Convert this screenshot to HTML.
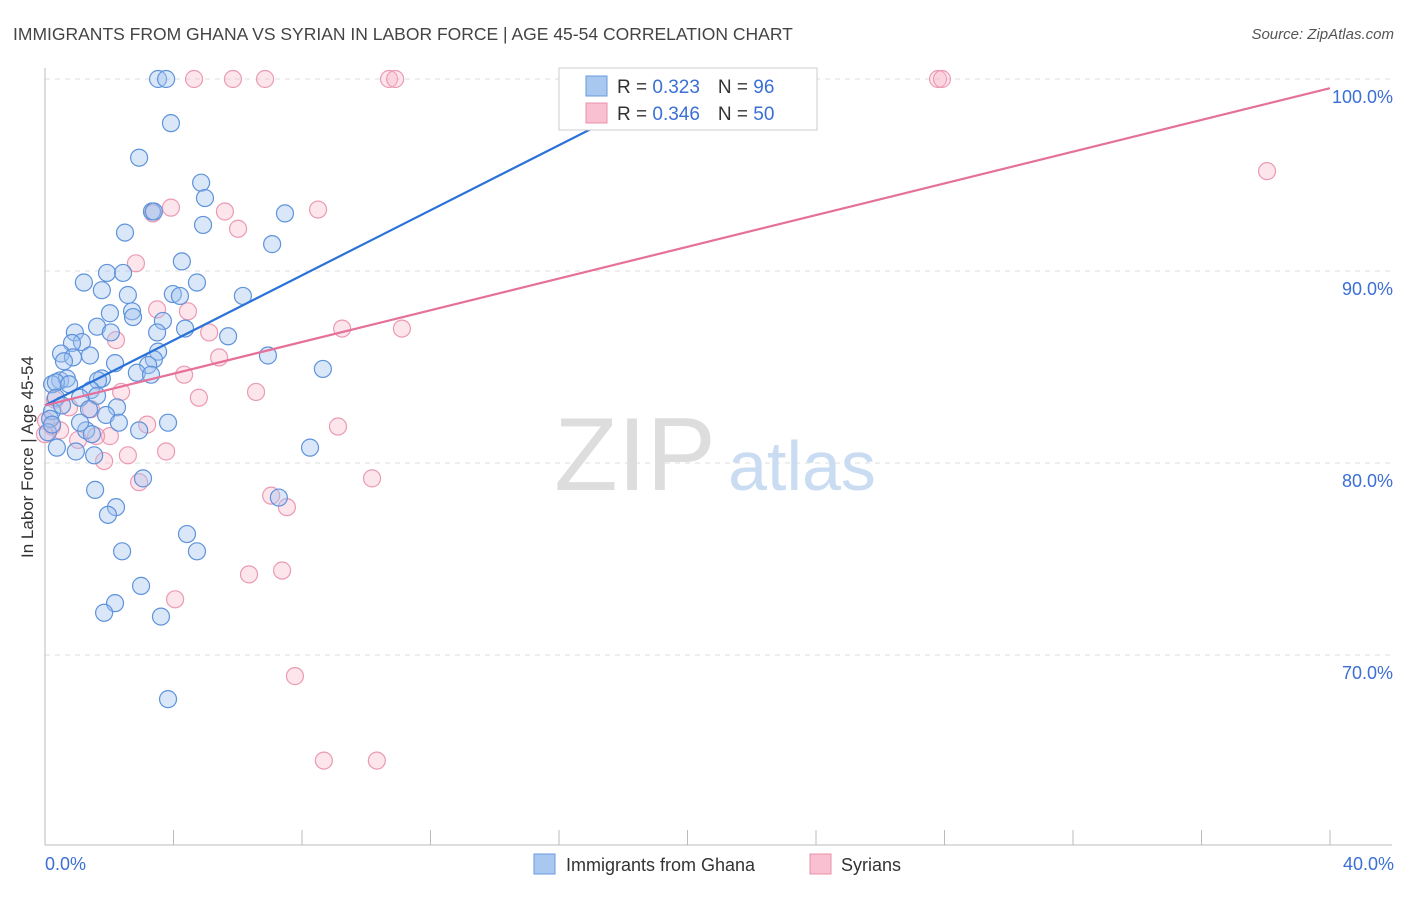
<!DOCTYPE html>
<html><head><meta charset="utf-8"><style>
body{margin:0;background:#fff;font-family:"Liberation Sans",sans-serif;}
svg text{font-family:"Liberation Sans",sans-serif;}
</style></head><body>
<svg id="chart" width="1406" height="892" viewBox="0 0 1406 892" xmlns="http://www.w3.org/2000/svg">
<text x="13" y="40" font-size="17.5" fill="#444">IMMIGRANTS FROM GHANA VS SYRIAN IN LABOR FORCE | AGE 45-54 CORRELATION CHART</text>
<text x="1394" y="39" font-size="15" fill="#555" font-style="italic" text-anchor="end">Source: ZipAtlas.com</text>
<g id="grid"></g>
<g>
<text x="635" y="490" font-size="104" fill="#ddd" font-family="Liberation Serif, serif" text-anchor="middle">ZIP</text>
<text x="802" y="490" font-size="70" fill="#c9dcf2" text-anchor="middle">atlas</text>
</g>
<g id="pts"></g>
<g id="lines"></g>
<text transform="translate(33,457) rotate(-90)" font-size="17" fill="#333" text-anchor="middle">In Labor Force | Age 45-54</text>
<text x="45" y="870" font-size="18" fill="#3b6fd4">0.0%</text>
<text x="1394" y="870" font-size="18" fill="#3b6fd4" text-anchor="end">40.0%</text>
<g>
<rect x="559" y="68" width="258" height="62" fill="#fff" stroke="#ccc"/>
<rect x="586" y="76" width="21" height="20" fill="#a8c8f0" stroke="#6a9ae0"/>
<rect x="586" y="103" width="21" height="20" fill="#f8c0d0" stroke="#e890aa"/>
<text x="617" y="93" font-size="19" fill="#333">R = <tspan fill="#3b6fd4">0.323</tspan><tspan dx="18">N = </tspan><tspan fill="#3b6fd4">96</tspan></text>
<text x="617" y="120" font-size="19" fill="#333">R = <tspan fill="#3b6fd4">0.346</tspan><tspan dx="18">N = </tspan><tspan fill="#3b6fd4">50</tspan></text>
</g>
<g>
<rect x="534" y="854" width="21" height="20" fill="#a8c8f0" stroke="#6a9ae0"/>
<text x="566" y="871" font-size="18" fill="#333">Immigrants from Ghana</text>
<rect x="810" y="854" width="21" height="20" fill="#f8c0d0" stroke="#e890aa"/>
<text x="841" y="871" font-size="18" fill="#333">Syrians</text>
</g>
</svg>
<script>
const yTicks=[70,80,90,100];
const yTickLabels=["70.0%","80.0%","90.0%","100.0%"];
const blueX=[3.52,3.77,3.92,2.93,4.86,4.98,3.33,3.39,7.47,4.92,2.49,7.07,4.26,1.93,2.43,1.21,4.73,1.77,2.58,3.98,4.20,6.16,2.71,2.02,3.67,1.62,4.36,0.93,1.15,2.74,2.05,3.49,5.70,0.84,0.50,1.40,0.87,3.52,6.94,2.18,0.59,3.39,3.21,2.86,3.30,8.65,0.47,0.68,1.77,1.65,0.22,0.34,0.75,1.43,1.62,1.09,0.34,2.24,1.37,0.22,1.90,3.83,2.30,2.93,1.28,1.46,0.16,0.37,0.96,1.53,8.25,3.05,1.56,7.28,2.21,1.96,4.42,2.40,4.73,2.99,2.18,1.84,3.61,3.83,0.09,0.22,0.53,1.09];
const blueY=[100,100,97.7,95.9,94.6,93.8,93.1,93.1,93.0,92.4,92.0,91.4,90.5,89.9,89.9,89.4,89.4,89.0,88.75,88.8,88.7,88.7,87.9,87.8,87.4,87.1,87.0,86.8,86.3,87.6,86.8,86.8,86.6,86.25,85.7,85.6,85.5,85.8,85.6,85.2,85.3,85.4,85.1,84.7,84.6,84.9,84.3,84.4,84.4,84.3,84.1,84.2,84.1,83.8,83.5,83.4,83.4,82.9,82.8,82.7,82.5,82.1,82.1,81.7,81.7,81.5,82.3,80.8,80.6,80.4,80.8,79.2,78.6,78.2,77.7,77.3,76.3,75.4,75.4,73.6,72.7,72.2,72.0,67.7,81.6,82.0,83.0,82.1];
const pinkX=[4.64,5.85,6.85,10.71,10.90,27.80,27.92,38.04,3.92,3.36,8.50,5.60,6.01,2.83,3.49,4.45,5.11,9.25,11.11,2.21,5.42,4.33,4.79,6.57,2.37,0.31,0.75,1.43,0.22,9.12,3.18,1.03,2.02,1.59,2.58,1.84,3.77,10.18,2.93,7.04,7.53,6.35,7.38,4.05,7.78,8.68,10.33,0.03,0.47,0.0];
const pinkY=[100,100,100,100,100,100,100,95.2,93.3,93.0,93.2,93.1,92.2,90.4,88.0,87.9,86.8,87.0,87.0,86.4,85.5,84.6,83.4,83.7,83.7,83.3,82.9,82.8,81.9,81.9,82.0,81.2,81.4,81.4,80.4,80.1,80.6,79.2,79.0,78.3,77.7,74.2,74.4,72.9,68.9,64.5,64.5,82.2,81.7,81.5];
const blueTrend=[83.0,0.847];
const pinkTrend=[83.0,0.413];
const NS="http://www.w3.org/2000/svg";
const sx=v=>45+v*32.125;
const sy=v=>79+(100-v)*19.2;
function mk(tag,attrs,parent){const e=document.createElementNS(NS,tag);for(const k in attrs)e.setAttribute(k,attrs[k]);parent.appendChild(e);return e;}
const grid=document.getElementById('grid');
yTicks.forEach((t,i)=>{
  const l=mk('line',{x1:45,x2:1392,y1:sy(t),y2:sy(t),stroke:'#ddd','stroke-dasharray':'5,5'},grid);
  
  
  const tx=mk('text',{x:1393,y:sy(t)+24,'font-size':18,fill:'#3b6fd4','text-anchor':'end'},grid);
  tx.textContent=yTickLabels[i];
  
  
});
mk('line',{x1:45,x2:45,y1:68,y2:845,stroke:'#bbb'},grid);
mk('line',{x1:45,x2:1392,y1:845,y2:845,stroke:'#bbb'},grid);
for(let k=1;k<=10;k++){const x=sx(k*4);const t=mk('line',{x1:x,x2:x,y1:830,y2:845,stroke:'#bbb'},grid);}
const pts=document.getElementById('pts');
pinkX.forEach((x,i)=>{const c=mk('circle',{cx:sx(x),cy:sy(pinkY[i]),r:8.5,fill:'rgba(248,180,200,0.35)',stroke:'#eb9ab2','stroke-width':1.2},pts);

});
blueX.forEach((x,i)=>{const c=mk('circle',{cx:sx(x),cy:sy(blueY[i]),r:8.5,fill:'rgba(160,196,240,0.4)',stroke:'#5f93db','stroke-width':1.2},pts);

});
const lines=document.getElementById('lines');
const bx2=(100-blueTrend[0])/blueTrend[1];
const bl=mk('line',{x1:sx(0),y1:sy(blueTrend[0]),x2:sx(bx2),y2:sy(100),stroke:'#2a72d8','stroke-width':2.2},lines);


const pl=mk('line',{x1:sx(0),y1:sy(pinkTrend[0]),x2:sx(40),y2:sy(pinkTrend[0]+40*pinkTrend[1]),stroke:'#e5709a','stroke-width':2.2},lines);


</script>
</body></html>
